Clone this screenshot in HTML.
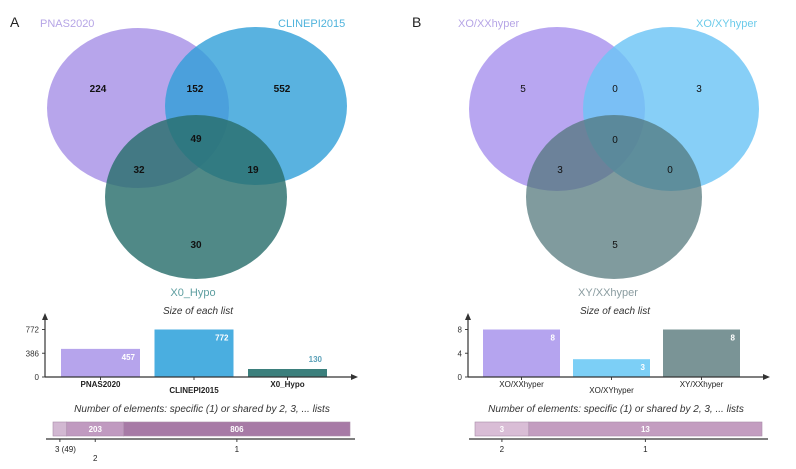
<!DOCTYPE html>
<html><head><meta charset="utf-8"><style>
html,body{margin:0;padding:0;background:#fff;}
svg{display:block;font-family:"Liberation Sans",sans-serif;}
</style></head><body>
<svg id="c" width="796" height="469" viewBox="0 0 796 469" xmlns="http://www.w3.org/2000/svg">
<g>
<ellipse cx="138" cy="108" rx="91" ry="80" fill="#a58ee6" opacity="0.8"/>
<ellipse cx="256" cy="106" rx="91" ry="79" fill="#2f9fd8" opacity="0.8"/>
<ellipse cx="196" cy="197" rx="91" ry="82" fill="#2a6f6c" opacity="0.82"/>
<text x="10" y="27" font-size="14" fill="#222">A</text>
<text x="40" y="27" font-size="11" fill="#b6a5e6">PNAS2020</text>
<text x="278" y="27" font-size="11" fill="#4fb3dc">CLINEPI2015</text>
<text x="193" y="296" font-size="11" fill="#5d9ea0" text-anchor="middle">X0_Hypo</text>
<g font-size="10" font-weight="bold" fill="#111" text-anchor="middle">
<text x="98" y="92">224</text>
<text x="195" y="92">152</text>
<text x="282" y="92">552</text>
<text x="196" y="142">49</text>
<text x="139" y="173">32</text>
<text x="253" y="173">19</text>
<text x="196" y="248">30</text>
</g></g>
<g>
<ellipse cx="557" cy="109" rx="88" ry="82" fill="#ac97ee" opacity="0.85"/>
<ellipse cx="671" cy="109" rx="88" ry="82" fill="#6cc5f5" opacity="0.82"/>
<ellipse cx="614" cy="197" rx="88" ry="82" fill="#4f7478" opacity="0.72"/>
<text x="412" y="27" font-size="14" fill="#222">B</text>
<text x="458" y="27" font-size="11" fill="#b6a5e6">XO/XXhyper</text>
<text x="696" y="27" font-size="11" fill="#6ccbea">XO/XYhyper</text>
<text x="608" y="296" font-size="11" fill="#8a9ca0" text-anchor="middle">XY/XXhyper</text>
<g font-size="10" fill="#111" text-anchor="middle">
<text x="523" y="92">5</text>
<text x="615" y="92">0</text>
<text x="699" y="92">3</text>
<text x="615" y="143">0</text>
<text x="560" y="173">3</text>
<text x="670" y="173">0</text>
<text x="615" y="248">5</text>
</g></g>
<g id="charts"></g>
</svg>
<script>
const catsA = ["PNAS2020","CLINEPI2015","X0_Hypo"];
const valsA = [457,772,130];
const ticksA = [0,386,772];
const colorsA = ["#b6a4ec","#4aaee0","#3b7f7c"];
const catsB = ["XO/XXhyper","XO/XYhyper","XY/XXhyper"];
const valsB = [8,3,8];
const ticksB = [0,4,8];
const colorsB = ["#b5a4ef","#7ccff6","#7a9496"];
const stackLabelsA = ["3 (49)","2","1"];
const stackValsA = [49,203,806];
const stackLabelsB = ["2","1"];
const stackValsB = [3,13];

const NS="http://www.w3.org/2000/svg";
const root=document.getElementById('charts');
function mk(tag,attrs,parent,text){const e=document.createElementNS(NS,tag);for(const k in attrs)e.setAttribute(k,attrs[k]);if(text!==undefined)e.textContent=text;(parent||root).appendChild(e);return e;}

function barChart(p,cats,vals,ticks,colors,valColors,boldLabels){
  const base=377, top=329.5, max=ticks[ticks.length-1];
  const y=v=>base-(v/max)*(base-top);
  const g=mk('g',{});
  
  
  const t=mk('text',{x:p.cx,y:314,'font-size':10,'font-style':'italic','text-anchor':'middle',fill:'#333'},g,'Size of each list');
  
  
  ticks.forEach(v=>{
    const l=mk('text',{x:p.ax-6,y:y(v)+3,'font-size':8,'text-anchor':'end',fill:'#333'},g,String(v));
    
    
    mk('line',{x1:p.ax-3,x2:p.ax,y1:y(v),y2:y(v),stroke:'#444'},g);
  });
  cats.forEach((c,i)=>{
    const x0=p.x0+i*p.step;
    const r=mk('rect',{x:x0,y:y(vals[i]),width:p.bw,height:base-y(vals[i]),fill:colors[i]},g);
    
    
    const small=(base-y(vals[i]))<14;
    const vl=mk('text',{x:x0+p.bw-5,y:small?y(vals[i])-7:y(vals[i])+11,'font-size':8,'font-weight':'bold','text-anchor':'end',fill:small?'#5aa0b8':'#fff'},g,String(vals[i]));
    
    
    const cl=mk('text',{x:x0+p.bw/2,y:i%2?393:387,'font-size':8,'font-weight':boldLabels?'bold':'normal','text-anchor':'middle',fill:'#222'},g,c);
    
    
    mk('line',{x1:x0+p.bw/2,x2:x0+p.bw/2,y1:base,y2:base+3,stroke:'#444'},g);
  });
  mk('line',{x1:p.ax,x2:p.ax,y1:base,y2:318,stroke:'#333','stroke-width':1.2},g);
  mk('path',{d:`M${p.ax-3},320 L${p.ax},313 L${p.ax+3},320Z`,fill:'#333'},g);
  mk('line',{x1:p.ax,x2:p.xend,y1:base,y2:base,stroke:'#333','stroke-width':1.2},g);
  mk('path',{d:`M${p.xend-1},${base-3} L${p.xend+6},${base} L${p.xend-1},${base+3}Z`,fill:'#333'},g);
}

function stackChart(p,labels,vals,colors,labelPos){
  const total=vals.reduce((a,b)=>a+b,0);
  const g=mk('g',{});
  
  
  const t=mk('text',{x:p.cx,y:412,'font-size':10,'font-style':'italic','text-anchor':'middle',fill:'#333'},g,'Number of elements: specific (1) or shared by 2, 3, ... lists');
  
  
  let x=p.x0;const w=p.x1-p.x0;
  const order=vals.map((v,i)=>i);
  order.forEach(i=>{
    const sw=vals[i]/total*w;
    const r=mk('rect',{x:x,y:422,width:sw,height:14,fill:colors[i],stroke:'#a88aa8','stroke-width':0.6},g);
    
    
    if(sw>20){
      const vl=mk('text',{x:x+sw/2,y:432,'font-size':8,'font-weight':'bold','text-anchor':'middle',fill:'#fff'},g,String(vals[i]));
      
      
    }
    const cx=x+sw/2;
    mk('line',{x1:cx,x2:cx,y1:439,y2:442,stroke:'#444'},g);
    const lp=labelPos[i];
    const l=mk('text',{x:lp.dx!==undefined?x+lp.dx:cx,y:lp.y,'font-size':8,'text-anchor':lp.a||'middle',fill:'#222'},g,labels[i]);
    
    
    x+=sw;
  });
  mk('line',{x1:p.ax0,x2:p.ax1,y1:439,y2:439,stroke:'#333','stroke-width':1.2},g);
}

barChart({name:'bar-chart-a',cx:198,ax:45,x0:61,step:93.5,bw:79,xend:352},catsA,valsA,ticksA,colorsA,null,true);
barChart({name:'bar-chart-b',cx:615,ax:468,x0:483,step:90,bw:77,xend:764},catsB,valsB,ticksB,colorsB,null,false);
stackChart({name:'stack-chart-a',cx:202,x0:53,x1:350,ax0:46,ax1:355},stackLabelsA,stackValsA,['#d2b8d2','#c09ac0','#a77aa6'],[{y:452,dx:2,a:'start'},{y:461},{y:452}]);
stackChart({name:'stack-chart-b',cx:616,x0:475,x1:762,ax0:469,ax1:768},stackLabelsB,stackValsB,['#d9bdd6','#c39dc0'],[{y:452},{y:452}]);
</script>
</body></html>
